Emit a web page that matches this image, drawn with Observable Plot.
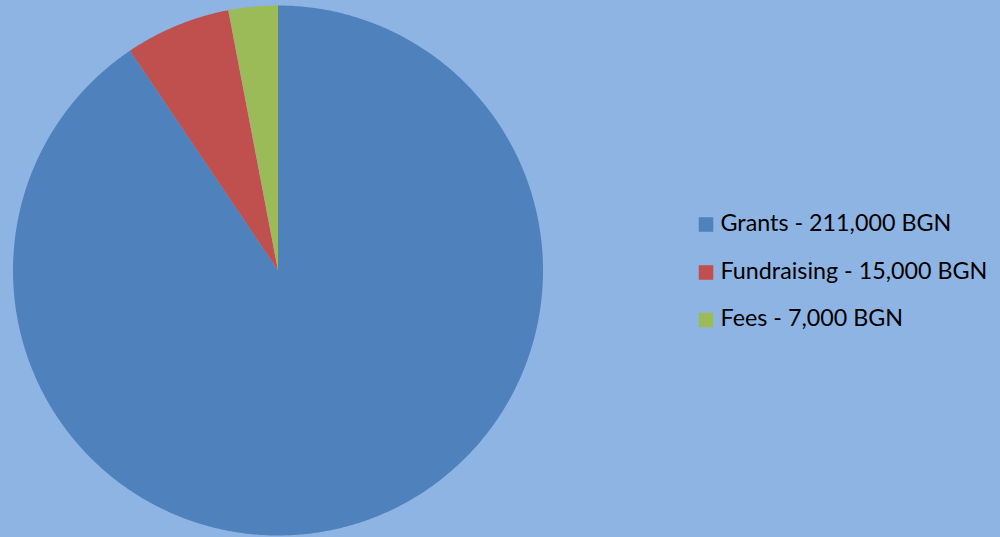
<!DOCTYPE html>
<html>
<head>
<meta charset="utf-8">
<script src="https://cdn.jsdelivr.net/npm/d3@7"></script>
<script src="https://cdn.jsdelivr.net/npm/@observablehq/plot@0.6"></script>
<style>
  html, body { margin: 0; padding: 0; background: #8EB4E3; }
  #chart svg { display: block; }
</style>
</head>
<body>
<div id="chart"></div>
<script>
// Data
const categories = ["Grants", "Fundraising", "Fees"];
const values = [211000, 15000, 7000];
const labels = ["Grants - 211,000 BGN", "Fundraising - 15,000 BGN", "Fees - 7,000 BGN"];
const colors = ["#4F81BD", "#C0504D", "#9BBB59"];

// Layout (pixels)
const W = 1000, H = 537;
const cx = 277.5, cy = 270, R = 265;

// Pie angles (start at 12 o'clock, clockwise)
const arcs = d3.pie().sort(null).value(d => d.value)(
  categories.map((c, i) => ({category: c, value: values[i]}))
);

// Build polygon vertices for each slice in unit-circle coordinates
const pts = [];
arcs.forEach(a => {
  const n = Math.max(4, Math.ceil((a.endAngle - a.startAngle) / (Math.PI / 360)));
  pts.push({category: a.data.category, x: 0, y: 0});
  for (let k = 0; k <= n; k++) {
    const t = a.startAngle + (a.endAngle - a.startAngle) * k / n;
    pts.push({category: a.data.category, x: Math.sin(t), y: Math.cos(t)});
  }
});

// Legend in unit coordinates (converted from pixel layout)
const toX = px => (px - cx) / R;
const toY = py => (cy - py) / R;
const legendRows = [224, 272, 319.5];
const legend = categories.map((c, i) => ({
  category: c, label: labels[i], y: toY(legendRows[i])
}));

const chart = Plot.plot({
  width: W,
  height: H,
  margin: 0,
  style: {background: "#8EB4E3", fontFamily: "Lato, 'Open Sans', sans-serif"},
  x: {domain: [-1, 1], range: [cx - R, cx + R], axis: null},
  y: {domain: [-1, 1], range: [cy + R, cy - R], axis: null},
  color: {domain: categories, range: colors},
  marks: [
    Plot.line(pts, {x: "x", y: "y", z: "category", fill: "category", stroke: "none", curve: "linear-closed"}),
    Plot.dot(legend, {x: toX(705.5), y: "y", symbol: "square", r: 8.2, fill: "category", stroke: "none"}),
    Plot.text(legend, {x: toX(720), y: "y", text: "label", textAnchor: "start", fill: "#000", fontSize: 23.3, dy: -1})
  ]
});
document.getElementById("chart").appendChild(chart);
</script>
</body>
</html>
